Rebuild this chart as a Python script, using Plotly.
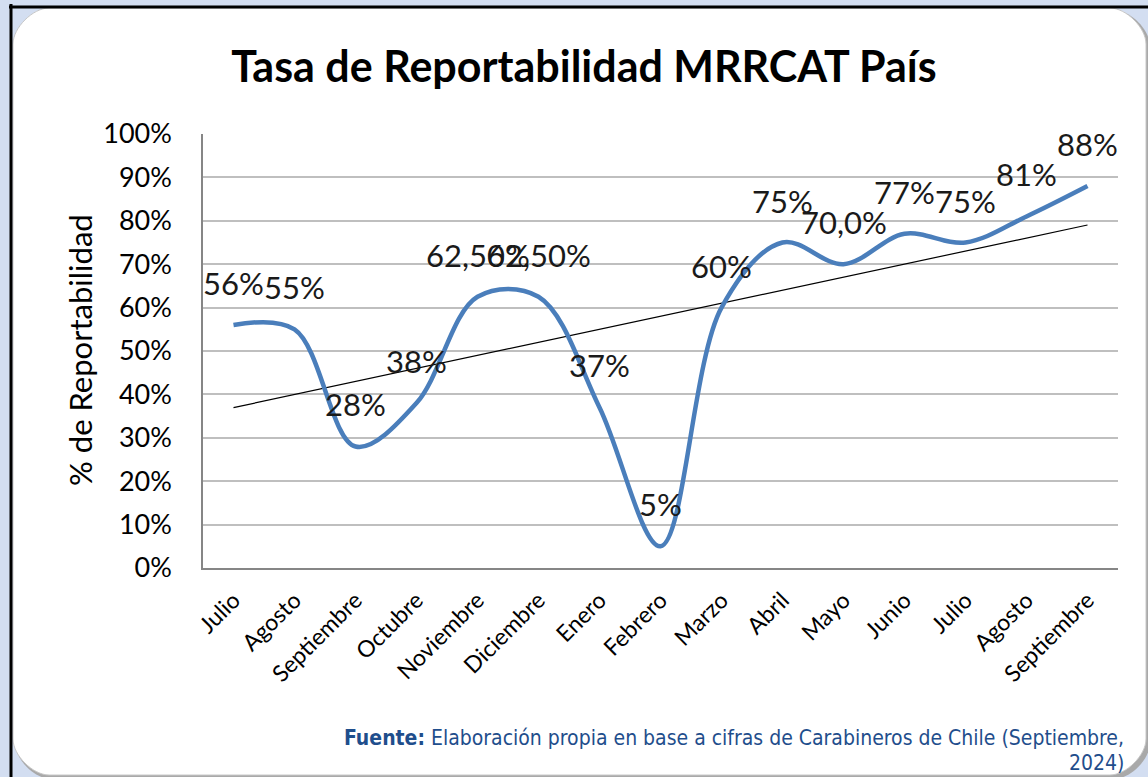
import numpy as np
import plotly.graph_objects as go

# ---------------- data ----------------
months = ["Julio", "Agosto", "Septiembre", "Octubre", "Noviembre", "Diciembre",
          "Enero", "Febrero", "Marzo", "Abril", "Mayo", "Junio", "Julio",
          "Agosto", "Septiembre"]
rates = [0.56, 0.55, 0.28, 0.38, 0.625, 0.625, 0.37, 0.05, 0.60, 0.75,
         0.70, 0.77, 0.75, 0.81, 0.88]
labels = ["56%", "55%", "28%", "38%", "62,50%", "62,50%", "37%", "5%", "60%",
          "75%", "70,0%", "77%", "75%", "81%", "88%"]
y_ticks = [0, 0.1, 0.2, 0.3, 0.4, 0.5, 0.6, 0.7, 0.8, 0.9, 1.0]
y_tick_text = ["0%", "10%", "20%", "30%", "40%", "50%", "60%", "70%", "80%",
               "90%", "100%"]

xs = list(range(len(months)))

# ---------------- layout geometry (pixels) ----------------
W, H = 1148, 777
L, R, T, B = 203, 30, 134, 209
PW, PH = W - L - R, H - T - B


def px(x):
    return (x - L) / PW


def py(y):
    return (H - B - y) / PH


FONT = "Lato, Carlito, Calibri, sans-serif"

fig = go.Figure()

# trend line (least squares through the series)
slope, intercept = np.polyfit(xs, rates, 1)
fig.add_trace(go.Scatter(
    x=[xs[0], xs[-1]],
    y=[intercept + slope * xs[0], intercept + slope * xs[-1]],
    mode="lines", line=dict(color="black", width=1.2),
    hoverinfo="skip", showlegend=False))

fig.add_trace(go.Scatter(
    x=xs, y=rates, mode="lines",
    line=dict(color="#4A7EBB", width=4.5, shape="spline", smoothing=1.0),
    showlegend=False))

# data labels
for x, y, t in zip(xs, rates, labels):
    fig.add_annotation(x=x, y=y, text=t, showarrow=False, yshift=42,
                       font=dict(family=FONT, size=31, color="#1a1a1a"),
                       xanchor="center", yanchor="middle")

# background frame shapes
def rounded_rect(x0, y0, x1, y1, r):
    k = 0.45 * r
    pts = [
        f"M {px(x0 + r)} {py(y0)}",
        f"L {px(x1 - r)} {py(y0)}",
        f"C {px(x1 - r + k)} {py(y0)} {px(x1)} {py(y0 + r - k)} {px(x1)} {py(y0 + r)}",
        f"L {px(x1)} {py(y1 - r)}",
        f"C {px(x1)} {py(y1 - r + k)} {px(x1 - r + k)} {py(y1)} {px(x1 - r)} {py(y1)}",
        f"L {px(x0 + r)} {py(y1)}",
        f"C {px(x0 + r - k)} {py(y1)} {px(x0)} {py(y1 - r + k)} {px(x0)} {py(y1 - r)}",
        f"L {px(x0)} {py(y0 + r)}",
        f"C {px(x0)} {py(y0 + r - k)} {px(x0 + r - k)} {py(y0)} {px(x0 + r)} {py(y0)}",
        "Z",
    ]
    return " ".join(pts)


fig.add_shape(type="path", xref="paper", yref="paper", layer="below",
              path=rounded_rect(15, 10, 1150, 779, 36),
              fillcolor="#A9A9A9", line=dict(width=0))
fig.add_shape(type="path", xref="paper", yref="paper", layer="below",
              path=rounded_rect(13, 8, 1146, 775, 36),
              fillcolor="white", line=dict(color="#C8C8C8", width=1))
fig.add_shape(type="line", xref="paper", yref="paper", layer="below",
              x0=px(11), x1=px(11), y0=py(4), y1=py(790),
              line=dict(color="black", width=3))
fig.add_shape(type="line", xref="paper", yref="paper", layer="below",
              x0=px(9), x1=px(1160), y0=py(7), y1=py(7),
              line=dict(color="black", width=3))

# y-axis title
fig.add_annotation(xref="paper", yref="paper", x=px(80), y=py(350),
                   text="% de Reportabilidad", textangle=-90, showarrow=False,
                   font=dict(family=FONT, size=31, color="black"),
                   xanchor="center", yanchor="middle")

# source note
NOTE_FONT = "'Liberation Sans Narrow', 'Arial Narrow', 'DejaVu Sans Condensed', sans-serif"
fig.add_annotation(xref="paper", yref="paper", x=px(1126), y=py(738),
                   text="<b>Fuente:</b> Elaboración propia en base a cifras de Carabineros de Chile (Septiembre,",
                   showarrow=False, xanchor="right", yanchor="middle",
                   font=dict(family=NOTE_FONT, size=21, color="#1F4E8C"))
fig.add_annotation(xref="paper", yref="paper", x=px(1126), y=py(763),
                   text="2024)", showarrow=False, xanchor="right", yanchor="middle",
                   font=dict(family=NOTE_FONT, size=21, color="#1F4E8C"))

fig.update_layout(
    width=W, height=H,
    margin=dict(l=L, r=R, t=T, b=B, autoexpand=False),
    paper_bgcolor="#D3DEF1",
    plot_bgcolor="rgba(0,0,0,0)",
    title=dict(text="<b>Tasa de Reportabilidad MRRCAT País</b>",
               x=584 / W, xref="container", xanchor="center",
               y=1 - 67 / H, yref="container", yanchor="middle",
               font=dict(family=FONT, size=43, color="black")),
    font=dict(family=FONT, color="black"),
    xaxis=dict(range=[-0.5, len(months) - 0.5], tickvals=xs, ticktext=months,
               tickangle=-45, tickfont=dict(family=FONT, size=23, color="black"),
               showgrid=False, zeroline=False, showline=True,
               linecolor="#868686", linewidth=1.5, ticks="", ticklabelstandoff=8,
               fixedrange=True),
    yaxis=dict(range=[0, 1.0], tickvals=y_ticks, ticktext=y_tick_text,
               tickfont=dict(family=FONT, size=27, color="black"),
               showgrid=True, gridcolor="#BFBFBF", gridwidth=1.5,
               zeroline=False, showline=True, linecolor="#868686", linewidth=1.5,
               ticks="", ticklabelstandoff=24, fixedrange=True),
    showlegend=False,
)

fig.write_html("out.html", config={"displayModeBar": False},
               post_script="document.body.style.margin='0';document.body.style.overflow='hidden';")
